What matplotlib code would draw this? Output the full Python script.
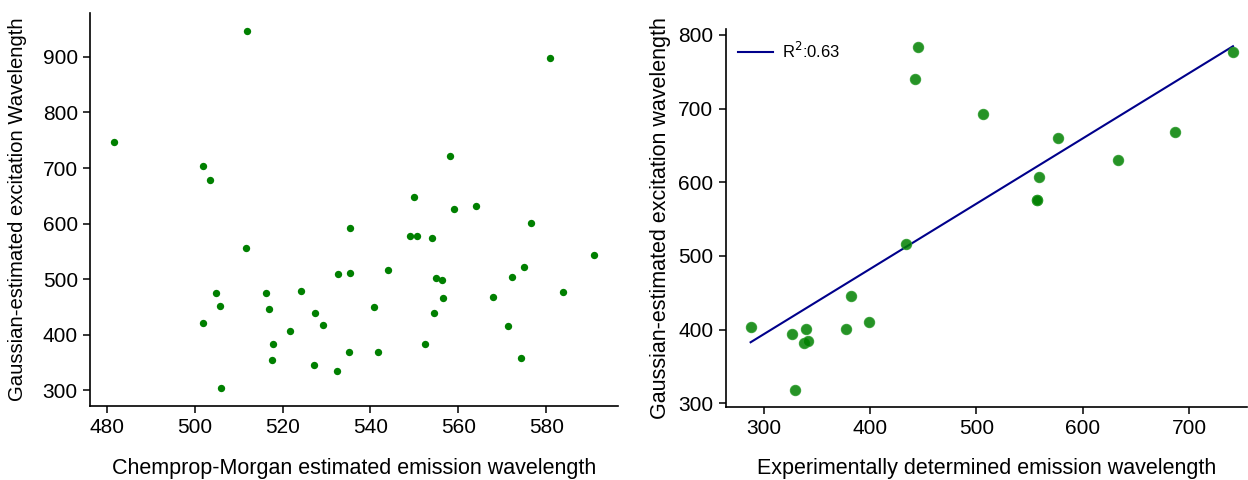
import numpy as np
import matplotlib
matplotlib.use("Agg")
import matplotlib.pyplot as plt

plt.rcParams['font.family'] = ['Liberation Sans', 'DejaVu Sans']

# Left panel: Chemprop-Morgan estimated emission vs Gaussian-estimated excitation
chemprop_em = [481.7, 511.9, 501.9, 503.6, 535.3, 511.6, 532.7, 535.3, 504.9, 516.3,
               524.1, 505.7, 516.9, 540.7, 501.9, 527.4, 529.1, 521.7, 517.8, 535.2,
               541.8, 517.7, 527.2, 532.5, 505.9, 580.8, 558.0, 550.0, 558.9, 564.0,
               576.6, 549.1, 550.6, 554.1, 590.8, 544.0, 575.0, 572.3, 555.0, 556.3,
               583.7, 556.5, 567.8, 554.5, 571.2, 552.5, 574.2]
gauss_ex_left = [747, 946.6, 704.2, 678.4, 591.5, 555.5, 508.7, 511.7, 474.5, 474.5,
                 478.1, 451.2, 446.3, 449.4, 420.6, 438.6, 417.5, 406.2, 383.3, 368.9,
                 368.9, 354, 346, 334.2, 303.6, 898, 721.1, 648.4, 626.8, 632.2,
                 600.5, 577.7, 577.7, 574, 543, 517.1, 522.4, 503.9, 502.6, 498,
                 476.9, 466.7, 467.9, 438.6, 416.3, 383.3, 357.6]

# Right panel: experimental emission vs Gaussian-estimated excitation
exp_em = [287.5, 326.3, 339.4, 338.2, 341.6, 329.1, 377.7, 382.4, 398.6, 433.4,
          444.6, 442.5, 506.6, 577.1, 559.2, 557.1, 556.8, 633.4, 687.2, 741.4]
gauss_ex_right = [403.5, 393.6, 401.2, 381.8, 384.1, 318, 400.4, 445.2, 409.9, 515.7,
                  783, 740, 692.5, 660, 607, 575.8, 576.2, 630.5, 668.1, 776.3]
r2_label = 'R$^2$:0.63'

fig = plt.figure(figsize=(12.48, 4.8), dpi=100)

ax1 = fig.add_axes([0.0724, 0.1548, 0.4228, 0.8188])
ax1.scatter(chemprop_em, gauss_ex_left, s=28, color='green', linewidths=0, zorder=3)
ax1.set_xlim(476.3, 596.3)
ax1.set_ylim(272.3, 979.5)
ax1.set_xticks([480, 500, 520, 540, 560, 580])
ax1.set_yticks([300, 400, 500, 600, 700, 800, 900])
ax1.set_xlabel('Chemprop-Morgan estimated emission wavelength', fontsize=15.5, labelpad=15)
ax1.set_ylabel('Gaussian-estimated excitation Wavelength', fontsize=14.6, labelpad=11)

ax2 = fig.add_axes([0.5817, 0.1527, 0.4175, 0.7863])
ax2.scatter(exp_em, gauss_ex_right, s=55, color='green', alpha=0.85, linewidths=0.8,
            edgecolors='#2a9a2a', zorder=3)
coef = np.polyfit(exp_em, gauss_ex_right, 1)
xs = np.array([min(exp_em), max(exp_em)])
ax2.plot(xs, np.polyval(coef, xs), color='#00008b', lw=1.5, label=r2_label, zorder=2)
ax2.set_xlim(264.3, 754.6)
ax2.set_ylim(295.4, 807.5)
ax2.set_xticks([300, 400, 500, 600, 700])
ax2.set_yticks([300, 400, 500, 600, 700, 800])
ax2.set_xlabel('Experimentally determined emission wavelength', fontsize=15.5, labelpad=14)
ax2.set_ylabel('Gaussian-estimated excitation wavelength', fontsize=15.5, labelpad=5)
ax2.legend(loc='upper left', frameon=False, fontsize=12, handlelength=2.1,
           handletextpad=0.55, borderaxespad=0.3, bbox_to_anchor=(0.0, 1.0))

for ax in (ax1, ax2):
    ax.spines['top'].set_visible(False)
    ax.spines['right'].set_visible(False)
    for s in ('left', 'bottom'):
        ax.spines[s].set_linewidth(1.2)
    ax.tick_params(labelsize=15, length=5, width=1.1, pad=4)

fig.savefig('out.png', dpi=100)
